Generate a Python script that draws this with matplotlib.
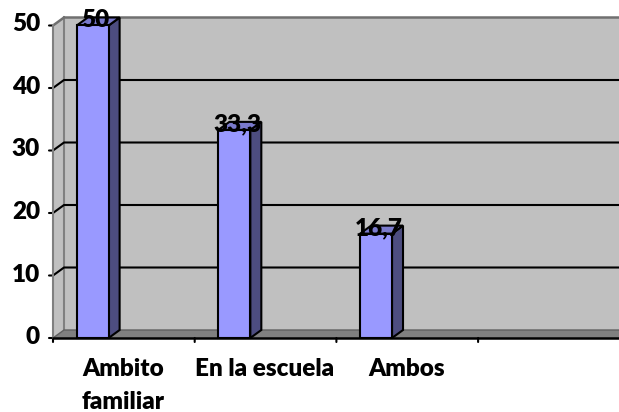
import matplotlib
matplotlib.use("Agg")
import matplotlib.pyplot as plt
from matplotlib.patches import Polygon

categories = ["Ambito\nfamiliar", "En la escuela", "Ambos", ""]
values = [50, 33.3, 16.7]
value_labels = ["50", "33,3", "16,7"]
y_ticks = [0, 10, 20, 30, 40, 50]

plt.rcParams["font.family"] = ["Lato", "DejaVu Sans"]

W, H = 619, 412
fig = plt.figure(figsize=(W / 100, H / 100), dpi=100)
ax = fig.add_axes([53 / W, 1 - 338 / H, (W - 53) / W, (338 - 25.5) / H])
xmax = (W - 53) / 141.7
ax.set_xlim(0, xmax)
ax.set_ylim(0, 50)
ax.axis("off")

# depth of the fake 3d box, in data units
dx = 11 / 141.7
dy = 8 / 6.25
bar_w = 0.225
bar_off = 0.28


def face(pts, color, edge="none", lw=0, z=1):
    ax.add_patch(Polygon(pts, closed=True, fc=color, ec=edge, lw=lw, zorder=z, clip_on=False))


# back wall, side wall, floor
face([(dx, dy), (xmax, dy), (xmax, 50 + dy), (dx, 50 + dy)], "#c0c0c0")
face([(0, 0), (dx, dy), (dx, 50 + dy), (0, 50)], "#c0c0c0")
face([(0, 0), (xmax, 0), (xmax, dy), (dx, dy)], "#808080")

# walls outline
ax.plot([dx, dx], [dy, 50 + dy], color="#808080", lw=1.5, zorder=2, clip_on=False)
ax.plot([0, dx, xmax], [50, 50 + dy, 50 + dy], color="#707070", lw=1.8, zorder=2, clip_on=False)
ax.plot([0, dx, xmax], [0, dy, dy], color="#606060", lw=1, zorder=2, clip_on=False)

# gridlines
for t in y_ticks[1:-1]:
    ax.plot([0, dx, xmax], [t, t + dy, t + dy], color="black", lw=1.5, zorder=2, clip_on=False)

# bars
for i, v in enumerate(values):
    x0 = i + bar_off - bar_w / 2
    x1 = x0 + bar_w
    ax.bar(x0, v, width=bar_w, align="edge", color="#9999ff", edgecolor="black", lw=1.5, zorder=4, clip_on=False)
    face([(x1, 0), (x1 + dx, dy), (x1 + dx, v + dy), (x1, v)], "#4d4d80", "black", 1.5, 3)
    face([(x0, v), (x1, v), (x1 + dx, v + dy), (x0 + dx, v + dy)], "#7a7acc", "black", 1.5, 3)
    ax.text(i + bar_off + 0.02, v - 0.2, value_labels[i], ha="center", va="baseline", fontsize=17.5,
            fontweight="heavy", color="black", zorder=6, clip_on=False)

# axes lines and ticks
ax.plot([0, 0], [0, 50], color="#808080", lw=1.5, zorder=5, clip_on=False)
ax.plot([0, xmax], [0, 0], color="black", lw=1.8, zorder=5, clip_on=False)
for t in y_ticks:
    ax.annotate("", xy=(0, t), xytext=(-4, 0), textcoords="offset pixels", xycoords="data",
                arrowprops=dict(arrowstyle="-", color="black", lw=1.5, shrinkA=0, shrinkB=0))
    ax.annotate(str(t), xy=(0, t), xytext=(-13, 1), textcoords="offset pixels", ha="right", va="center",
                fontsize=17.5, fontweight="heavy", annotation_clip=False)
for i in range(0, 4):
    ax.annotate("", xy=(i, 0), xytext=(0, -4), textcoords="offset pixels",
                arrowprops=dict(arrowstyle="-", color="black", lw=1.5, shrinkA=0, shrinkB=0))

# category labels
for i, c in enumerate(categories):
    ax.annotate(c, xy=(i + 0.5, 0), xytext=(-1, -20), textcoords="offset pixels", ha="center", va="top",
                fontsize=17.5, fontweight="heavy", linespacing=1.6, annotation_clip=False)

fig.savefig("out.png", dpi=100)
